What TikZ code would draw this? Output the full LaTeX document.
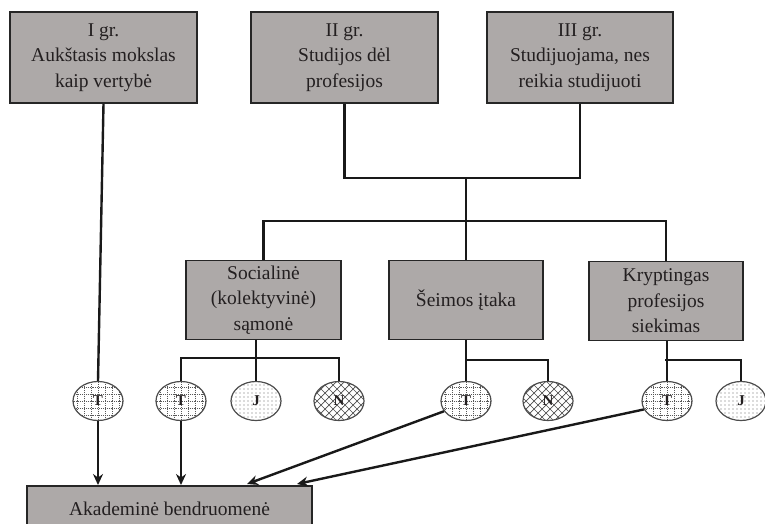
\documentclass[tikz,border=0pt]{standalone}
\usepackage{fontspec}
\setmainfont{Liberation Serif}
\usetikzlibrary{shapes.geometric,arrows.meta}
\definecolor{boxgray}{RGB}{173,169,168}
\definecolor{txt}{RGB}{35,31,32}
\begin{document}
\begin{tikzpicture}[x=1pt,y=-1pt,
  box/.style={draw=black!85, line width=1.6pt, fill=boxgray, align=center, text=txt,
    font=\fontsize{19.5}{25.5}\selectfont, inner sep=0pt},
  conn/.style={line width=2.4pt, black!90},
  arr/.style={conn, -{Stealth[length=11pt,width=10pt]}},
  ell/.style={ellipse, draw=black!70, line width=1.2pt, minimum width=50pt, minimum height=39pt,
    inner sep=0pt, font=\fontsize{15}{15}\selectfont\bfseries, text=txt},
  tgrid/.style={ell, path picture={
    \foreach \i in {-35,-28,...,35} {
      \draw[black!65, line width=0.6pt, dash pattern=on 0.8pt off 1.1pt]
        ([xshift=\i pt]path picture bounding box.center) ++(0,-30) -- ++(0,60);
      \draw[black!65, line width=0.6pt, dash pattern=on 0.8pt off 1.1pt]
        ([yshift=\i pt]path picture bounding box.center) ++(-35,0) -- ++(70,0);
    }}},
  jdots/.style={ell, path picture={
    \foreach \i in {-32,-28,...,32} {
      \foreach \j in {-24,-20,...,24} {
        \fill[black!60] (path picture bounding box.center) ++(\i,\j) circle (0.55pt);
      }}}},
  ncross/.style={ell, path picture={
    \foreach \i in {-70,-62,...,70} {
      \draw[black!70, line width=0.7pt]
        (path picture bounding box.center) ++(\i-30,-30) -- ++(60,60);
      \draw[black!70, line width=0.7pt]
        (path picture bounding box.center) ++(\i-30,30) -- ++(60,-60);
    }}}
]
\useasboundingbox (0,0) rectangle (765,524);

% top groups
\node[box, minimum width=187pt, minimum height=91pt] (g1) at (103.5,57.5) {I gr.\\Aukštasis mokslas\\kaip vertybė};
\node[box, minimum width=187pt, minimum height=91pt] (g2) at (344.5,57.5) {II gr.\\Studijos dėl\\profesijos};
\node[box, minimum width=186pt, minimum height=91pt] (g3) at (580,57.5) {III gr.\\Studijuojama, nes\\reikia studijuoti};

% middle factors
\node[box, minimum width=155pt, minimum height=79pt] (soc) at (263.5,300) {Socialinė\\(kolektyvinė)\\sąmonė};
\node[box, minimum width=154pt, minimum height=79pt] (sei) at (466,300) {Šeimos įtaka};
\node[box, minimum width=154pt, minimum height=79pt] (kry) at (666,301) {Kryptingas\\profesijos\\siekimas};

% bottom
\node[box, minimum width=285pt, minimum height=46pt, anchor=north] (bot) at (169.5,485) {Akademinė bendruomenė};

% ellipses
\node[tgrid]  (e1) at (98,401)  {T};
\node[tgrid]  (e2) at (181,401) {T};
\node[jdots]  (e3) at (256,401) {J};
\node[ncross] (e4) at (339,401) {N};
\node[tgrid]  (e5) at (466,401) {T};
\node[ncross] (e6) at (548,401) {N};
\node[tgrid]  (e7) at (667,401) {T};
\node[jdots]  (e8) at (741,401) {J};

% junction coordinates
\coordinate (tj) at (466,178);
\coordinate (mj) at (466,221);
\coordinate (sj) at (257,358);
\coordinate (ej) at (465,360);
\coordinate (kj) at (665,360);
\coordinate (a5) at (247,484);
\coordinate (a7) at (297,484);

% top connectors
\draw[conn] (g1.south) -- (e1.north);
\draw[conn] (g2.south) |- (tj) -| (g3.south);
\draw[conn] (tj) -- (sei.north);
\draw[conn] (soc.north) |- (mj) -| (kry.north);

% lower connectors
\draw[conn] (e2.north) |- (sj) -| (e4.north);
\draw[conn] (e3.north |- soc.south) -- (e3.north);
\draw[conn] (e5.north |- sei.south) -- (e5.north);
\draw[conn] (ej) -| (e6.north);
\draw[conn] (e7.north |- kry.south) -- (e7.north);
\draw[conn] (kj) -| (e8.north);

% arrows
\draw[arr] (e1.south) -- (e1.south |- bot.north);
\draw[arr] (e2.south) -- (e2.south |- bot.north);
\draw[arr] (e5.205) -- (a5);
\draw[arr] (e7.200) -- (a7);
\end{tikzpicture}
\end{document}
